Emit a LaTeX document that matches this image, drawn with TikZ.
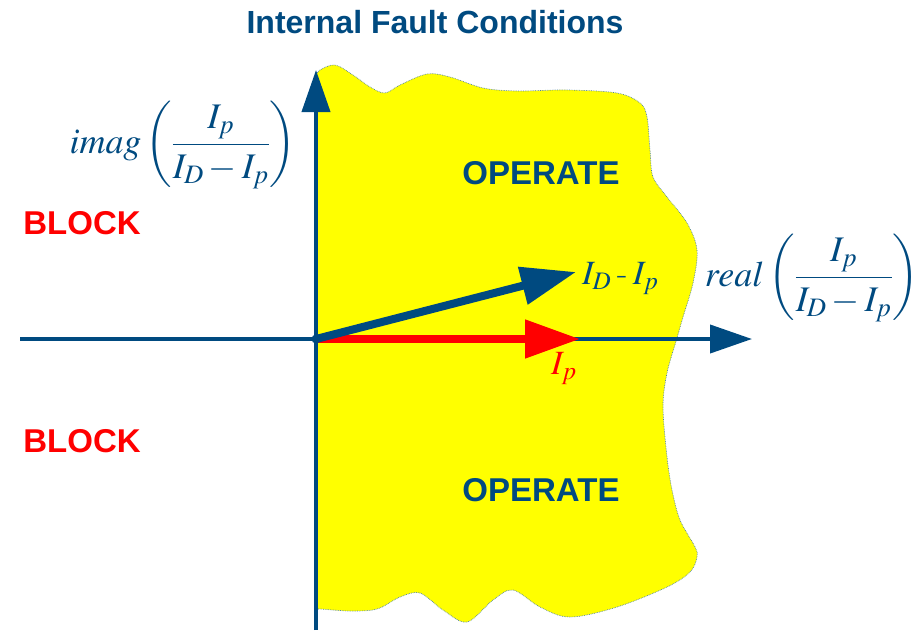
\documentclass[tikz,border=0pt]{standalone}
\usepackage{mathptmx}
\usepackage{fontspec}
\newfontfamily\arialbf[BoldFont={Liberation Sans Bold}]{Liberation Sans}
\usetikzlibrary{arrows.meta}
\definecolor{axblue}{RGB}{0,74,128}
\definecolor{zoneyellow}{RGB}{255,255,0}
\definecolor{axred}{RGB}{255,0,0}
\tikzset{
  zone/.style={fill=zoneyellow, draw=axblue!70, densely dotted, line width=0.7pt},
  axis/.style={draw=axblue, line width=4pt, -{Triangle[length=42pt,width=28pt]}},
  phasor/.style={line width=8pt, -{Triangle[length=55pt,width=37pt]}},
  lbl/.style={font=\arialbf\bfseries\fontsize{33}{33}\selectfont, inner sep=0pt},
  mathlbl/.style={inner sep=0pt, text=axblue, font=\fontsize{36}{43}\selectfont},
}
\begin{document}
\begin{tikzpicture}[x=1pt,y=-1pt]
\useasboundingbox (0,0) rectangle (921,630);
% operate zone
\fill[zone] plot[smooth, tension=0.55] coordinates {
 (316,76) (320,70) (335,65) (353,75) (370,87) (385,93) (400,85) (427,74) (450,77)
 (483,88) (517,91) (567,90) (617,93) (640,103) (647,117) (650,150) (653,177)
 (667,197) (687,223) (697,250) (693,283) (683,317) (677,338) (667,373) (663,407)
 (667,457) (672,490) (680,520) (695,547) (697,557) (690,572) (667,587) (617,607)
 (570,617) (540,607) (513,590) (493,600) (467,622) (443,610) (420,593) (400,597)
 (377,609) (350,611) (320,609) (316,610)} -- cycle;
% coordinates
\coordinate (O) at (316,339);
\coordinate (xl) at (20,339);
\coordinate (xr) at (752,339);
\coordinate (yb) at (316,630);
\coordinate (yt) at (316,70);
\coordinate (ip) at (580,339);
\coordinate (idp) at (576,272);
% axes
\draw[axis] (xl) -- (xr);
\draw[axis] (yb) -- (yt);
% phasors
\draw[phasor, draw=axred, fill=axred] (O) -- (ip);
\draw[phasor, draw=axblue] (O) -- (idp);
\fill[axblue] (O) circle (4.5);
% labels
\node[lbl, text=axblue] (title) at (435,22) {\fontsize{32}{32}\selectfont Internal Fault Conditions};
\node[lbl, text=axred] (b1) at (82,223) {BLOCK};
\node[lbl, text=axred] (b2) at (82,441) {BLOCK};
\node[lbl, text=axblue] (o1) at (541,173) {OPERATE};
\node[lbl, text=axblue] (o2) at (541,490) {OPERATE};
\node[mathlbl] (imag) at (183,145) {$\displaystyle imag\left(\frac{I_p}{I_D-I_p}\right)$};
\node[mathlbl] (real) at (812,278) {$\displaystyle real\left(\frac{I_p}{I_D-I_p}\right)$};
\node[mathlbl, anchor=base west, font=\fontsize{34}{40}\selectfont] (lid) at (582,284) {$I_D$\,-\,$I_p$};
\node[mathlbl, anchor=base west, text=axred, font=\fontsize{34}{40}\selectfont] (lip) at (551,374) {$I_p$};
\end{tikzpicture}
\end{document}
